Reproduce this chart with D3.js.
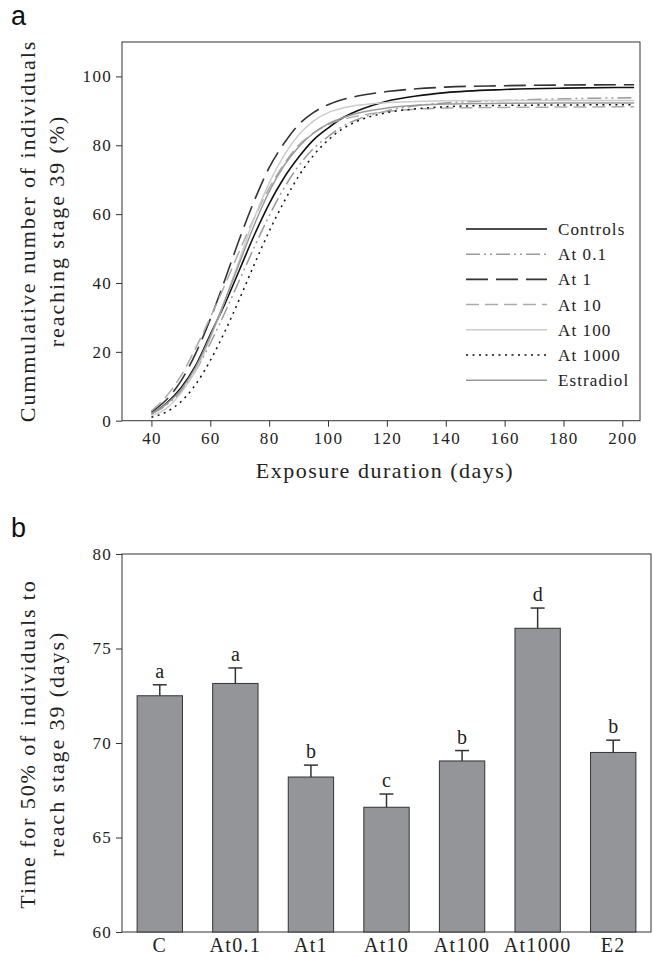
<!DOCTYPE html>
<html lang="en">
<head>
<meta charset="utf-8">
<title>Stage 39 figure</title>
<script src="https://cdn.jsdelivr.net/npm/d3@7"></script>
<style>
  body { margin: 0; background: #fff; }
  svg { display: block; }
  svg text { font-family: "Liberation Serif", "Times New Roman", serif !important; fill: #222; }
  svg text.panel-letter { font-family: "Liberation Sans", Arial, sans-serif !important; font-size: 27px; fill: #111; }
  .tick text { font-size: 17px; letter-spacing: 1.3px; }
  .axis path, .axis line { stroke: #333; }
</style>
</head>
<body>
<script>
// ---- panel a: cumulative curves ----
var days = [40, 45, 50, 55, 60, 65, 70, 75, 80, 85, 90, 95, 100, 105, 110, 120, 130, 140, 160, 180, 204];
var controls  = [2, 5, 9.5, 16, 25, 34, 44, 54, 63, 70.5, 76.5, 81.5, 85, 88, 90, 92.8, 94.3, 95.3, 96.2, 96.6, 96.8];
var at0_1     = [2, 4.5, 8.5, 14.5, 22.5, 31.5, 41, 50.5, 59.5, 67.5, 74, 79, 82.5, 85.5, 87.5, 90, 91.5, 92.3, 93, 93.5, 93.8];
var at1       = [2.5, 6, 11.5, 19.5, 29.5, 41, 53, 64, 73.5, 80.5, 86, 89.5, 91.8, 93.3, 94.3, 95.6, 96.4, 96.9, 97.3, 97.5, 97.6];
var at10      = [2.8, 7, 13, 21, 30, 39.5, 49.5, 59, 67.5, 74.5, 80, 83.5, 86, 87.5, 88.5, 89.8, 90.5, 90.8, 91, 91.1, 91.2];
var at100     = [1.5, 3.5, 8, 14.5, 24, 35, 47, 59, 69, 77, 83, 87, 89.5, 90.8, 91.6, 92.4, 92.7, 92.9, 93, 93, 93];
var at1000    = [1, 2.5, 5.5, 10.5, 17.5, 26, 35.5, 45.5, 55, 63.5, 71, 77, 81.5, 84.8, 87, 89.5, 90.6, 91.2, 91.6, 91.7, 91.8];
var estradiol = [2, 4.8, 9, 15.5, 24.5, 35, 46, 57, 66.5, 74, 79.5, 83.5, 86.2, 88, 89.3, 90.8, 91.6, 92, 92.2, 92.3, 92.3];

var seriesNames = ["Controls", "At 0.1", "At 1", "At 10", "At 100", "At 1000", "Estradiol"];
var seriesValues = [controls, at0_1, at1, at10, at100, at1000, estradiol];
var seriesColor = ["#111", "#9a9a9a", "#333", "#aaaaaa", "#cccccc", "#111", "#999"];
var seriesDash = [null, "14,4,2,4,2,4", "22,8", "13,6", null, "2,4.5", null];
var seriesWidth = [1.6, 1.5, 1.6, 1.5, 1.5, 1.5, 1.5];

var xTicksA = [40, 60, 80, 100, 120, 140, 160, 180, 200];
var yTicksA = [0, 20, 40, 60, 80, 100];

// ---- panel b: bars ----
var groups = ["C", "At0.1", "At1", "At10", "At100", "At1000", "E2"];
var means = [72.5, 73.15, 68.2, 66.6, 69.05, 76.07, 69.5];
var errTops = [73.08, 73.97, 68.83, 67.3, 69.6, 77.14, 70.15];
var letters = ["a", "a", "b", "c", "b", "d", "b"];
var yTicksB = [60, 65, 70, 75, 80];

var W = 653, H = 958;
var svg = d3.select("body").append("svg").attr("width", W).attr("height", H);

// panel a
var ax = d3.scaleLinear().domain([30, 206]).range([122, 640]);
var ay = d3.scaleLinear().domain([0, 110]).range([420.7, 42]);

svg.append("text").attr("class", "panel-letter").attr("x", 11).attr("y", 25).text("a");

svg.append("rect").attr("x", 122).attr("y", 42).attr("width", 640 - 122).attr("height", 420.7 - 42)
   .attr("fill", "none").attr("stroke", "#333").attr("stroke-width", 1);

svg.append("g").attr("class", "axis").attr("transform", "translate(0,420.7)")
   .call(d3.axisBottom(ax).tickValues(xTicksA).tickSize(6).tickPadding(5))
   .call(g => g.select(".domain").remove());
svg.append("g").attr("class", "axis").attr("transform", "translate(122,0)")
   .call(d3.axisLeft(ay).tickValues(yTicksA).tickSize(6).tickPadding(4))
   .call(g => g.select(".domain").remove());

var line = d3.line().x(d => ax(d[0])).y(d => ay(d[1])).curve(d3.curveMonotoneX);

seriesValues.forEach(function(vals, i) {
  svg.append("path")
     .datum(days.map((d, j) => [d, vals[j]]))
     .attr("d", line)
     .attr("fill", "none")
     .attr("stroke", seriesColor[i])
     .attr("stroke-width", seriesWidth[i])
     .attr("stroke-dasharray", seriesDash[i]);
});

// legend
var legend = svg.append("g").attr("transform", "translate(466,229)");
seriesNames.forEach(function(name, i) {
  var row = legend.append("g").attr("transform", "translate(0," + (i * 25.2) + ")");
  row.append("line").attr("x1", 0).attr("x2", 81).attr("y1", 0).attr("y2", 0)
     .attr("stroke", seriesColor[i]).attr("stroke-width", seriesWidth[i])
     .attr("stroke-dasharray", seriesDash[i]);
  row.append("text").attr("x", 92).attr("y", 6).style("font-size", "17px")
     .style("letter-spacing", "1.1px").text(name);
});

svg.append("text").attr("x", 385).attr("y", 478).attr("text-anchor", "middle")
   .style("font-size", "22px").style("letter-spacing", "1.5px").text("Exposure duration (days)");

svg.append("text").attr("transform", "translate(35,231) rotate(-90)").attr("text-anchor", "middle")
   .style("font-size", "22px").style("letter-spacing", "1.9px").text("Cummulative number of individuals");
svg.append("text").attr("transform", "translate(64,231) rotate(-90)").attr("text-anchor", "middle")
   .style("font-size", "22px").style("letter-spacing", "1.9px").text("reaching stage 39 (%)");

// panel b
var bx = d3.scaleBand().domain(groups).range([122, 651]).paddingInner(0.4).paddingOuter(0.2);
var by = d3.scaleLinear().domain([60, 80]).range([932, 554]);

svg.append("text").attr("class", "panel-letter").attr("x", 11).attr("y", 537).text("b");

svg.append("rect").attr("x", 122).attr("y", 554).attr("width", 651 - 122).attr("height", 932 - 554)
   .attr("fill", "none").attr("stroke", "#333").attr("stroke-width", 1);

svg.append("g").attr("class", "axis").attr("transform", "translate(122,0)")
   .call(d3.axisLeft(by).tickValues(yTicksB).tickSize(6).tickPadding(4))
   .call(g => g.select(".domain").remove());
svg.append("g").attr("class", "axis").attr("transform", "translate(0,932)")
   .call(d3.axisBottom(bx).tickSize(0).tickPadding(6))
   .call(g => g.select(".domain").remove())
   .call(g => g.selectAll("text").style("font-size", "20px").style("letter-spacing", "1.3px"));

var bars = svg.append("g").selectAll("g").data(groups).enter().append("g");
bars.append("line")
    .attr("x1", d => bx(d) + bx.bandwidth() / 2).attr("x2", d => bx(d) + bx.bandwidth() / 2)
    .attr("y1", (d, i) => by(means[i])).attr("y2", (d, i) => by(errTops[i]))
    .attr("stroke", "#333").attr("stroke-width", 1.5);
bars.append("line")
    .attr("x1", d => bx(d) + bx.bandwidth() / 2 - 7).attr("x2", d => bx(d) + bx.bandwidth() / 2 + 7)
    .attr("y1", (d, i) => by(errTops[i])).attr("y2", (d, i) => by(errTops[i]))
    .attr("stroke", "#333").attr("stroke-width", 1.5);
bars.append("rect")
    .attr("x", d => bx(d)).attr("width", bx.bandwidth())
    .attr("y", (d, i) => by(means[i])).attr("height", (d, i) => by(60) - by(means[i]))
    .attr("fill", "#939598").attr("stroke", "#333").attr("stroke-width", 1);
bars.append("text")
    .attr("x", d => bx(d) + bx.bandwidth() / 2).attr("y", (d, i) => by(errTops[i]) - 7)
    .attr("text-anchor", "middle").style("font-size", "20px")
    .text((d, i) => letters[i]);

svg.append("text").attr("transform", "translate(35,744) rotate(-90)").attr("text-anchor", "middle")
   .style("font-size", "22px").style("letter-spacing", "1.9px").text("Time for 50% of individuals to");
svg.append("text").attr("transform", "translate(64,744) rotate(-90)").attr("text-anchor", "middle")
   .style("font-size", "22px").style("letter-spacing", "1.9px").text("reach stage 39 (days)");
</script>
</body>
</html>
